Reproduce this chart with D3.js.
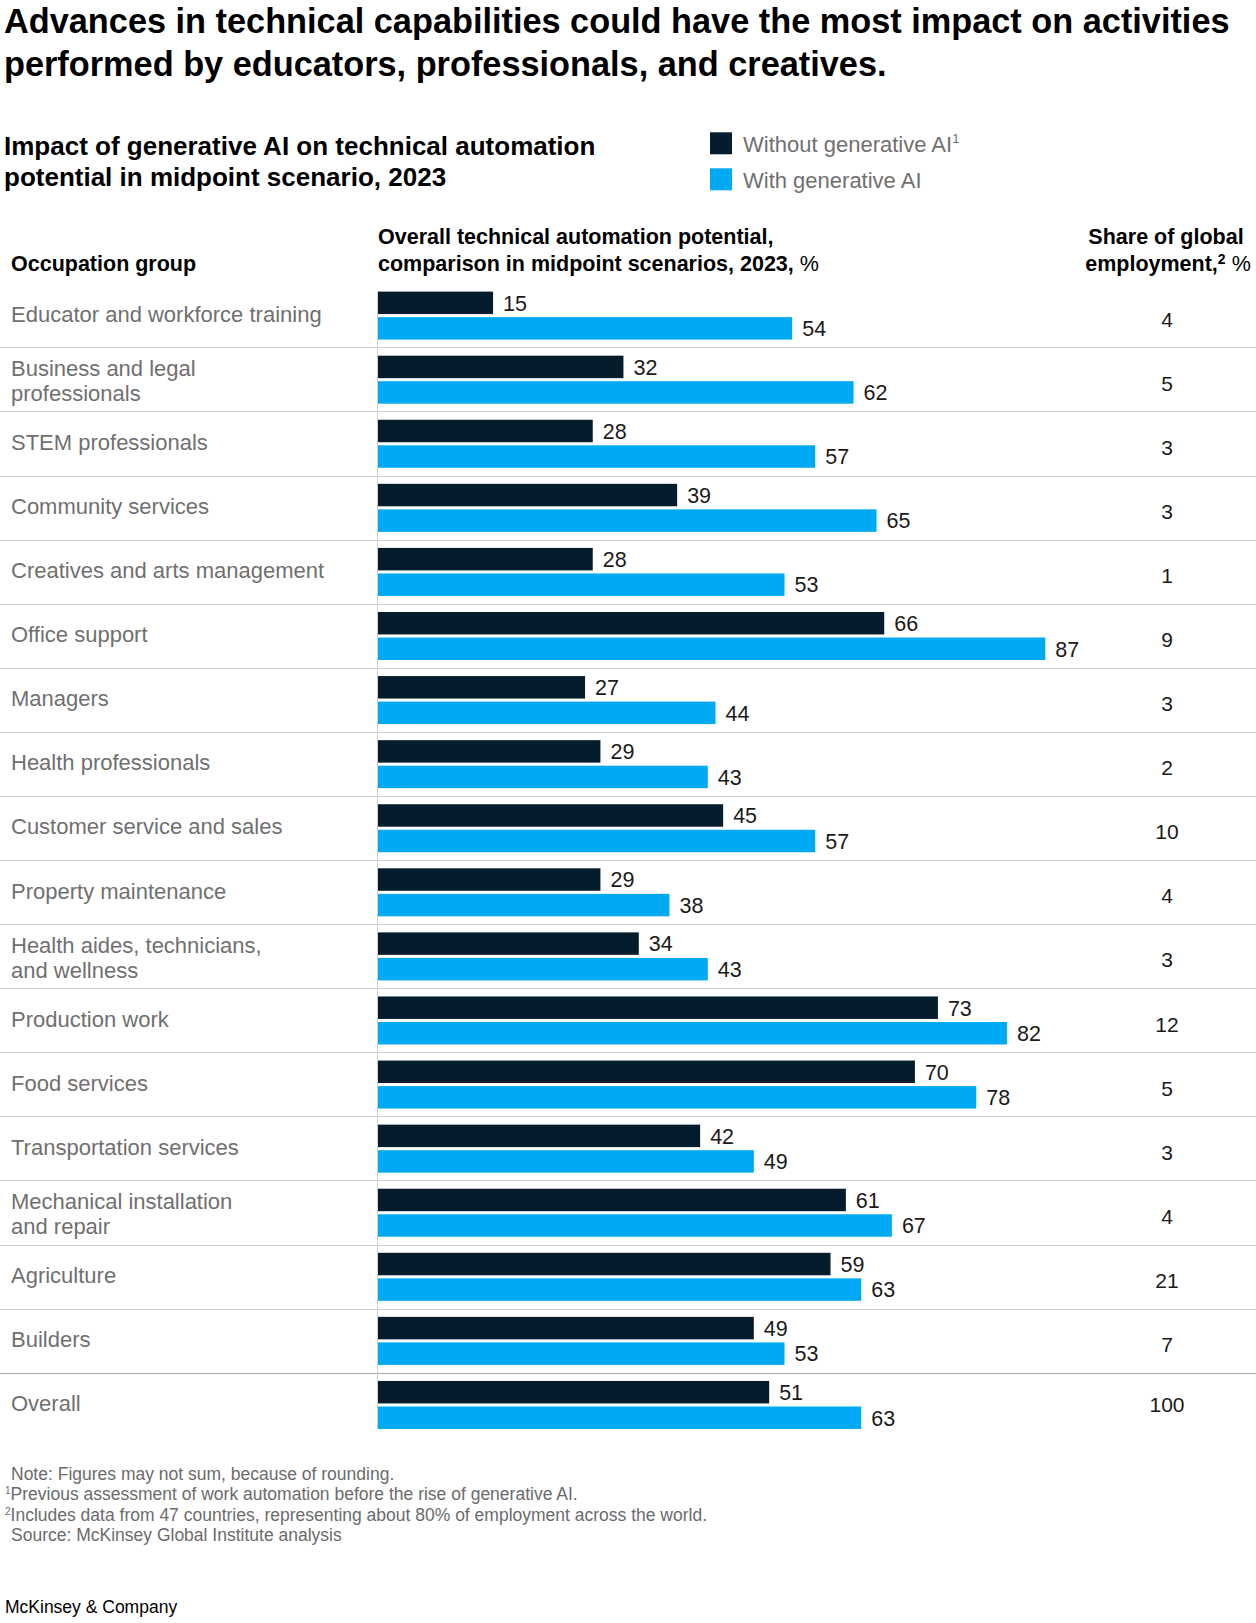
<!DOCTYPE html>
<html>
<head>
<meta charset="utf-8">
<script src="https://cdn.jsdelivr.net/npm/d3@7"></script>
<style>
  html, body { margin: 0; padding: 0; background: #fff; }
  svg { display: block; }
  text { font-family: "Liberation Sans", Arial, sans-serif; }
</style>
</head>
<body>
<svg id="chart" width="1256" height="1623"></svg>
<script>
// ---- Data ----
const categories = [
  "Educator and workforce training",
  "Business and legal professionals",
  "STEM professionals",
  "Community services",
  "Creatives and arts management",
  "Office support",
  "Managers",
  "Health professionals",
  "Customer service and sales",
  "Property maintenance",
  "Health aides, technicians, and wellness",
  "Production work",
  "Food services",
  "Transportation services",
  "Mechanical installation and repair",
  "Agriculture",
  "Builders",
  "Overall"
];
const labelLines = [
  ["Educator and workforce training"],
  ["Business and legal", "professionals"],
  ["STEM professionals"],
  ["Community services"],
  ["Creatives and arts management"],
  ["Office support"],
  ["Managers"],
  ["Health professionals"],
  ["Customer service and sales"],
  ["Property maintenance"],
  ["Health aides, technicians,", "and wellness"],
  ["Production work"],
  ["Food services"],
  ["Transportation services"],
  ["Mechanical installation", "and repair"],
  ["Agriculture"],
  ["Builders"],
  ["Overall"]
];
const withoutGenAI = [15, 32, 28, 39, 28, 66, 27, 29, 45, 29, 34, 73, 70, 42, 61, 59, 49, 51];
const withGenAI    = [54, 62, 57, 65, 53, 87, 44, 43, 57, 38, 43, 82, 78, 49, 67, 63, 53, 63];
const employmentShare = [4, 5, 3, 3, 1, 9, 3, 2, 10, 4, 3, 12, 5, 3, 4, 21, 7, 100];
const seriesKeys = ["without", "with"];
const seriesNames = ["Without generative AI", "With generative AI"];

// ---- Setup ----
const W = 1256, H = 1623;
const svg = d3.select("#chart");
svg.append("rect").attr("width", W).attr("height", H).attr("fill", "#fff");

const colors = { without: "#051c2c", with: "#00a9f4" };
const grayText = "#707070";

// Title
const title = svg.append("g");
["Advances in technical capabilities could have the most impact on activities",
 "performed by educators, professionals, and creatives."].forEach((t, i) => {
  title.append("text").attr("x", 4).attr("y", 33 + i * 42.6)
    .attr("font-size", 34.3).attr("font-weight", 700).attr("fill", "#000").text(t);
});

// Subtitle
["Impact of generative AI on technical automation",
 "potential in midpoint scenario, 2023"].forEach((t, i) => {
  svg.append("text").attr("x", 4).attr("y", 155 + i * 31)
    .attr("font-size", 26).attr("font-weight", 700).attr("fill", "#000").text(t);
});

// Legend
const legend = svg.append("g");
seriesKeys.forEach((k, i) => {
  const gy = 132.3 + i * 36;
  legend.append("rect").attr("x", 710).attr("y", gy).attr("width", 22).attr("height", 22)
    .attr("fill", colors[k]);
  const tx = legend.append("text").attr("x", 743).attr("y", gy + 19.4)
    .attr("font-size", 22).attr("fill", grayText).text(seriesNames[i]);
  if (k === "without") {
    tx.append("tspan").attr("font-size", 13).attr("dy", -9).text("1");
  }
});

// Column headers
const hfs = 21.5;
svg.append("text").attr("x", 11).attr("y", 271)
  .attr("font-size", hfs).attr("font-weight", 700).attr("fill", "#000").text("Occupation group");

svg.append("text").attr("x", 378).attr("y", 244)
  .attr("font-size", hfs).attr("font-weight", 700).attr("fill", "#000")
  .text("Overall technical automation potential,");
const h2 = svg.append("text").attr("x", 378).attr("y", 271)
  .attr("font-size", hfs).attr("font-weight", 700).attr("fill", "#000");
h2.append("tspan").text("comparison in midpoint scenarios, 2023, ");
h2.append("tspan").attr("font-weight", 400).text("%");

svg.append("text").attr("x", 1166).attr("y", 244).attr("text-anchor", "middle")
  .attr("font-size", hfs).attr("font-weight", 700).attr("fill", "#000").text("Share of global");
const h4 = svg.append("text").attr("x", 1168).attr("y", 271).attr("text-anchor", "middle")
  .attr("font-size", hfs).attr("font-weight", 700).attr("fill", "#000");
h4.append("tspan").text("employment,");
h4.append("tspan").attr("font-size", 14).attr("dy", -7).text("2");
h4.append("tspan").attr("dy", 7).attr("font-weight", 400).text(" %");

// ---- Scales ----
const rowPitch = 64.08;
const y = d3.scaleBand().domain(categories)
  .range([283.3, 283.3 + categories.length * rowPitch]).paddingInner(0).paddingOuter(0);
const ys = d3.scaleBand().domain(seriesKeys).range([8.3, 56.3]).paddingInner(0.12);
const x = d3.scaleLinear().domain([0, 100]).range([378, 1145]);

// Row separators
const sep = svg.append("g");
categories.slice(0, -1).forEach((c, i) => {
  const yy = Math.round(y(c) + y.bandwidth()) + 0.5;
  sep.append("line").attr("x1", 0).attr("x2", W).attr("y1", yy).attr("y2", yy)
    .attr("stroke", i === categories.length - 2 ? "#a6a6a6" : "#cfcfcf").attr("stroke-width", 1.2);
});

// Baseline axis line
const lastCat = categories[categories.length - 1];
svg.append("line")
  .attr("x1", x(0) - 0.5).attr("x2", x(0) - 0.5)
  .attr("y1", y(categories[0]) + ys("without"))
  .attr("y2", y(lastCat) + ys("with") + ys.bandwidth())
  .attr("stroke", "#cfcfcf").attr("stroke-width", 1);

// Rows
const rows = svg.append("g").selectAll("g.row")
  .data(categories.map((c, i) => ({
    cat: c, lines: labelLines[i],
    vals: { without: withoutGenAI[i], with: withGenAI[i] },
    share: employmentShare[i], idx: i
  })))
  .join("g").attr("class", "row")
  .attr("transform", d => `translate(0,${y(d.cat)})`);

const mid = y.bandwidth() / 2;

// Labels
rows.each(function(d) {
  const g = d3.select(this);
  const t = g.append("text").attr("x", 11).attr("font-size", 22).attr("fill", grayText);
  if (d.lines.length === 1) {
    t.append("tspan").attr("x", 11).attr("y", mid + 6.5).text(d.lines[0]);
  } else {
    d.lines.forEach((ln, j) => {
      t.append("tspan").attr("x", 11).attr("y", mid - 3 + j * 25).text(ln);
    });
  }
});

// Bars
seriesKeys.forEach(k => {
  rows.append("rect")
    .attr("x", x(0))
    .attr("y", ys(k))
    .attr("width", d => x(d.vals[k]) - x(0))
    .attr("height", ys.bandwidth())
    .attr("fill", colors[k]);
  rows.append("text")
    .attr("x", d => x(d.vals[k]) + 10)
    .attr("y", ys(k) + ys.bandwidth() / 2 + 7.8)
    .attr("font-size", 21.5).attr("fill", "#1a1a1a")
    .text(d => d.vals[k]);
});

// Share of global employment
rows.append("text")
  .attr("x", 1167).attr("text-anchor", "middle")
  .attr("y", d => d.idx === categories.length - 1 ? mid + 7.5 : mid + 11.3)
  .attr("font-size", 21).attr("fill", "#1a1a1a")
  .text(d => d.share);

// Footnotes
const ffs = 17.5, fcol = "#6b6b6b";
svg.append("text").attr("x", 11).attr("y", 1480).attr("fill", fcol)
  .attr("font-size", ffs).text("Note: Figures may not sum, because of rounding.");
const f1 = svg.append("text").attr("x", 5).attr("y", 1500).attr("fill", fcol).attr("font-size", ffs);
f1.append("tspan").attr("font-size", 10).attr("dy", -6).text("1");
f1.append("tspan").attr("dy", 6).text("Previous assessment of work automation before the rise of generative AI.");
const f2 = svg.append("text").attr("x", 5).attr("y", 1520.5).attr("fill", fcol).attr("font-size", ffs);
f2.append("tspan").attr("font-size", 10).attr("dy", -6).text("2");
f2.append("tspan").attr("dy", 6).text("Includes data from 47 countries, representing about 80% of employment across the world.");
svg.append("text").attr("x", 11).attr("y", 1541).attr("fill", fcol)
  .attr("font-size", ffs).text("Source: McKinsey Global Institute analysis");

svg.append("text").attr("x", 5).attr("y", 1613).attr("font-size", 17.5).attr("fill", "#000")
  .text("McKinsey & Company");
</script>
</body>
</html>
